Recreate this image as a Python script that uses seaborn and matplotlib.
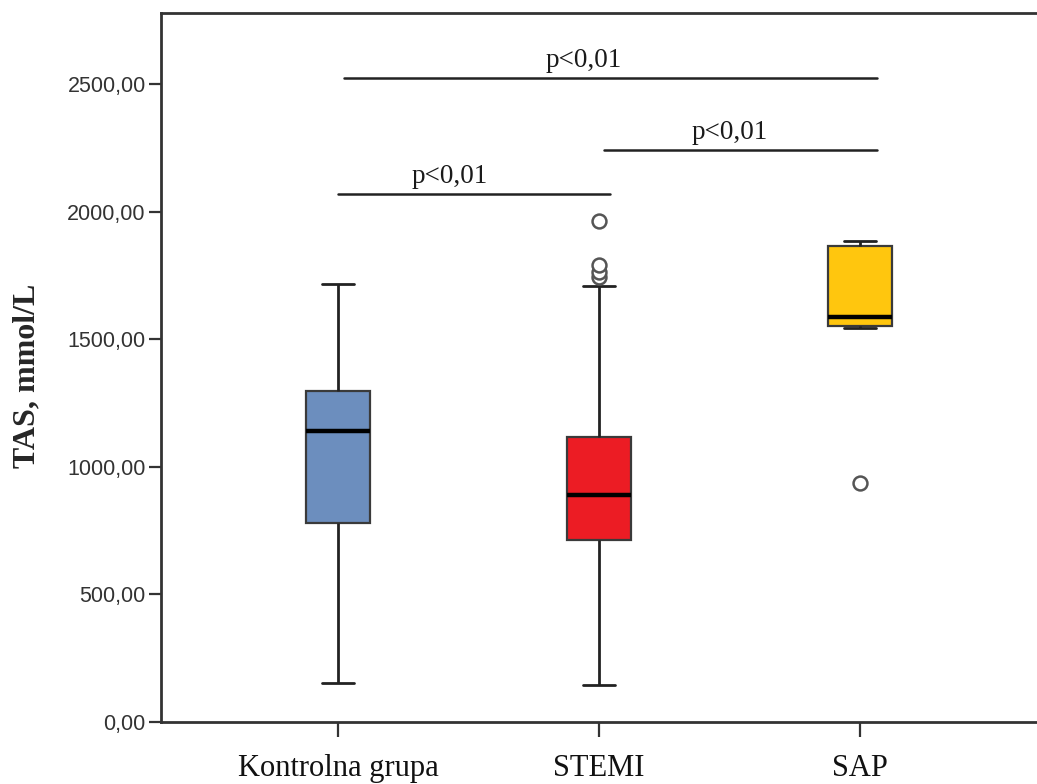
import matplotlib
matplotlib.use("Agg")
import matplotlib.pyplot as plt
from matplotlib.ticker import FuncFormatter
import seaborn as sns
import pandas as pd

# group names and box colours
groups = ['Kontrolna grupa', 'STEMI', 'SAP']
colors = ['#6C8EBE', '#EC1C24', '#FFC60E']

# box summaries (TAS, mmol/L)
whisker_low = [153, 145, 1545]
q1 = [780, 713, 1550]
medians = [1140, 889, 1587]
q3 = [1297, 1117, 1865]
whisker_high = [1716, 1709, 1885]
outliers_low = [[], [], [937]]
outliers_high = [[], [1744, 1763, 1790, 1963], []]

# significance brackets: (from, to, height)
sig_from = [0.0, 1.02, 0.02]
sig_to = [1.04, 2.065, 2.065]
sig_y = [2069, 2241, 2525]
sig_text = ['p<0,01', 'p<0,01', 'p<0,01']
sig_text_x = [0.425, 1.5, 0.94]


def sample_for(lo, a, m, b, hi, out_lo, out_hi):
    # builds 4k+1 values whose quartiles / whiskers give the summary above
    k = max(len(out_lo) + 1, len(out_hi) + 1)
    vals = list(out_lo) + [lo] + [a] * (k - len(out_lo))
    vals += [m] * k
    vals += [b] * k
    vals += [b] * (k - 1 - len(out_hi)) + [hi] + list(out_hi)
    return vals


rows = []
for i, g in enumerate(groups):
    for v in sample_for(whisker_low[i], q1[i], medians[i], q3[i], whisker_high[i],
                        outliers_low[i], outliers_high[i]):
        rows.append({'grupa': g, 'TAS': v})
df = pd.DataFrame(rows)

sns.set_style('ticks')
fig = plt.figure(figsize=(10.37, 7.84), dpi=100)
ax = fig.add_axes([161 / 1037, 62 / 784, 879 / 1037, 709 / 784])

sns.boxplot(data=df, x='grupa', y='TAS', hue='grupa', order=groups,
            hue_order=groups, palette=colors, saturation=1, width=0.245,
            legend=False, linecolor='#3a3a3a', linewidth=1.6, ax=ax,
            medianprops={'color': 'black', 'linewidth': 3.2},
            whiskerprops={'color': '#222222', 'linewidth': 2},
            capprops={'color': '#222222', 'linewidth': 2},
            flierprops={'marker': 'o', 'markerfacecolor': 'white',
                        'markeredgecolor': '#555555', 'markersize': 10,
                        'markeredgewidth': 1.8})

for x0, x1, y, t, tx in zip(sig_from, sig_to, sig_y, sig_text, sig_text_x):
    ax.plot([x0, x1], [y, y], color='#222222', linewidth=1.8)
    ax.text(tx, y + 43, t, ha='center', va='baseline', fontsize=19.5,
            family='Liberation Serif', color='#1a1a1a')

ax.set_xlim(-0.68, 2.69)
ax.set_ylim(0, 2778)
ax.set_yticks([0, 500, 1000, 1500, 2000, 2500])
ax.yaxis.set_major_formatter(FuncFormatter(lambda v, p: f'{v:.2f}'.replace('.', ',')))

ax.set_xlabel('')
ax.set_ylabel('TAS, mmol/L', fontsize=23, fontweight='bold', family='Liberation Serif')
ax.yaxis.set_label_coords(-0.136, 0.488)

for lab in ax.get_yticklabels():
    lab.set_family('Liberation Sans')
    lab.set_fontsize(15.5)
    lab.set_color('#333333')
for lab in ax.get_xticklabels():
    lab.set_family('Liberation Serif')
    lab.set_fontsize(22)
    lab.set_color('#111111')

ax.tick_params(axis='y', length=9, width=1.6, pad=2, color='#333333')
ax.tick_params(axis='x', length=11, width=1.6, pad=12, color='#333333')
for s in ax.spines.values():
    s.set_linewidth(2)
    s.set_color('#333333')

fig.savefig('out.png', dpi=100)
